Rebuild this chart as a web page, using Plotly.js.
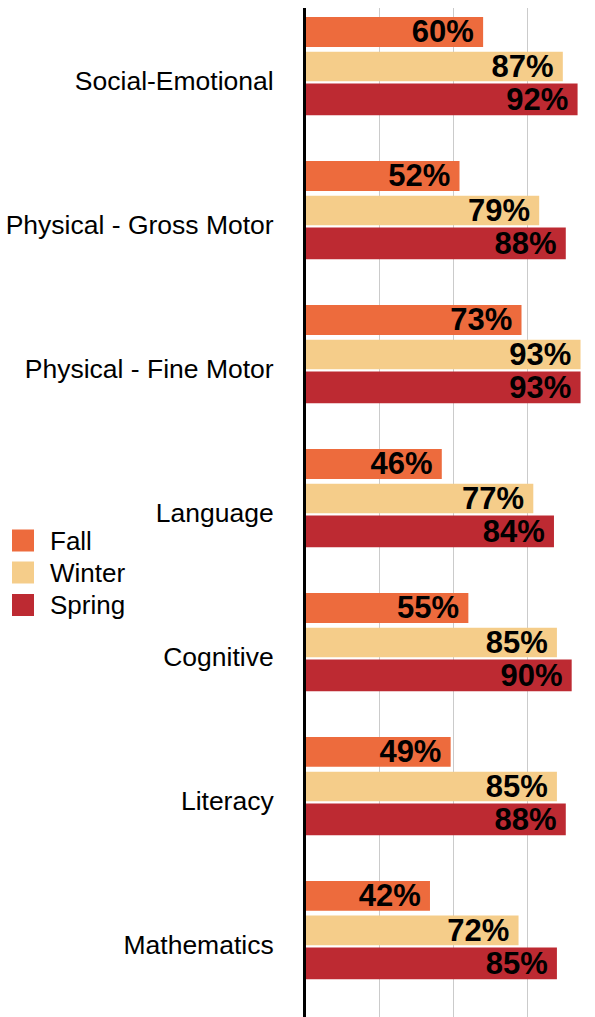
<!DOCTYPE html>
<html>
<head>
<meta charset="utf-8">
<script src="https://cdn.plot.ly/plotly-3.0.1.min.js"></script>
<style>html,body{margin:0;padding:0;background:#fff;}#chart{width:595px;height:1017px;}</style>
</head>
<body>
<div id="chart"></div>
<script>
const categories = ["Social-Emotional","Physical - Gross Motor","Physical - Fine Motor","Language","Cognitive","Literacy","Mathematics"];
const fall   = [60, 52, 73, 46, 55, 49, 42];
const winter = [87, 79, 93, 77, 85, 85, 72];
const spring = [92, 88, 93, 84, 90, 88, 85];
const seriesNames = ["Fall","Winter","Spring"];
const seriesColors = ["#ED6B3D","#F5CD8A","#BD2A32"];

const FONT = '"Liberation Sans", Arial, sans-serif';
const L = 306, R = 0, T = 8, B = 0, WIDTH = 595, HEIGHT = 1017;
const PW = WIDTH - L - R, PH = HEIGHT - T - B;
function px(x){ return (x - L) / PW; }
function py(y){ return 1 - (y - T) / PH; }

const offsets = [-0.445, -0.204, 0.017];
const widths  = [0.208, 0.205, 0.22];
const values = [fall, winter, spring];

const traces = values.map((vals, i) => ({
  type: 'bar',
  orientation: 'h',
  name: seriesNames[i],
  y: categories,
  x: vals,
  offset: offsets[i],
  width: widths[i],
  marker: {color: seriesColors[i]},
  text: vals.map(v => v + '%\u2009'),
  textposition: 'inside',
  insidetextanchor: 'end',
  constraintext: 'none',
  textfont: {family: FONT, size: 31, color: '#000', weight: 'bold'},
  cliponaxis: false,
  hoverinfo: 'none',
  showlegend: false
}));

const shapes = [];
const annotations = [];
const legendY = [540.5, 572.5, 605];
seriesNames.forEach((n, i) => {
  shapes.push({type: 'rect', xref: 'paper', yref: 'paper',
    x0: px(12), x1: px(34), y0: py(legendY[i] - 11), y1: py(legendY[i] + 11),
    fillcolor: seriesColors[i], line: {width: 0}});
  annotations.push({xref: 'paper', yref: 'paper', x: px(48), y: py(legendY[i]),
    xanchor: 'left', yanchor: 'middle', text: n, showarrow: false,
    font: {family: FONT, size: 26, color: '#000'}});
});

const layout = {
  width: WIDTH, height: HEIGHT,
  margin: {l: L, r: R, t: T, b: B, pad: 0},
  paper_bgcolor: '#fff', plot_bgcolor: '#fff',
  barmode: 'group',
  showlegend: false,
  xaxis: {range: [0, 97.9], dtick: 25, tick0: 0, showgrid: true, gridcolor: '#CBCBCB', gridwidth: 1,
          zeroline: false, showticklabels: false, ticks: '', showline: false, fixedrange: true},
  yaxis: {type: 'category', range: [6.5, -0.507], showgrid: false, zeroline: false,
          showline: true, linecolor: '#000', linewidth: 3, ticks: '',
          ticklabelstandoff: 24,
          tickfont: {family: FONT, size: 26.5, color: '#000'}, fixedrange: true},
  shapes: shapes,
  annotations: annotations
};

Plotly.newPlot('chart', traces, layout, {displayModeBar: false, staticPlot: true});
</script>
</body>
</html>
